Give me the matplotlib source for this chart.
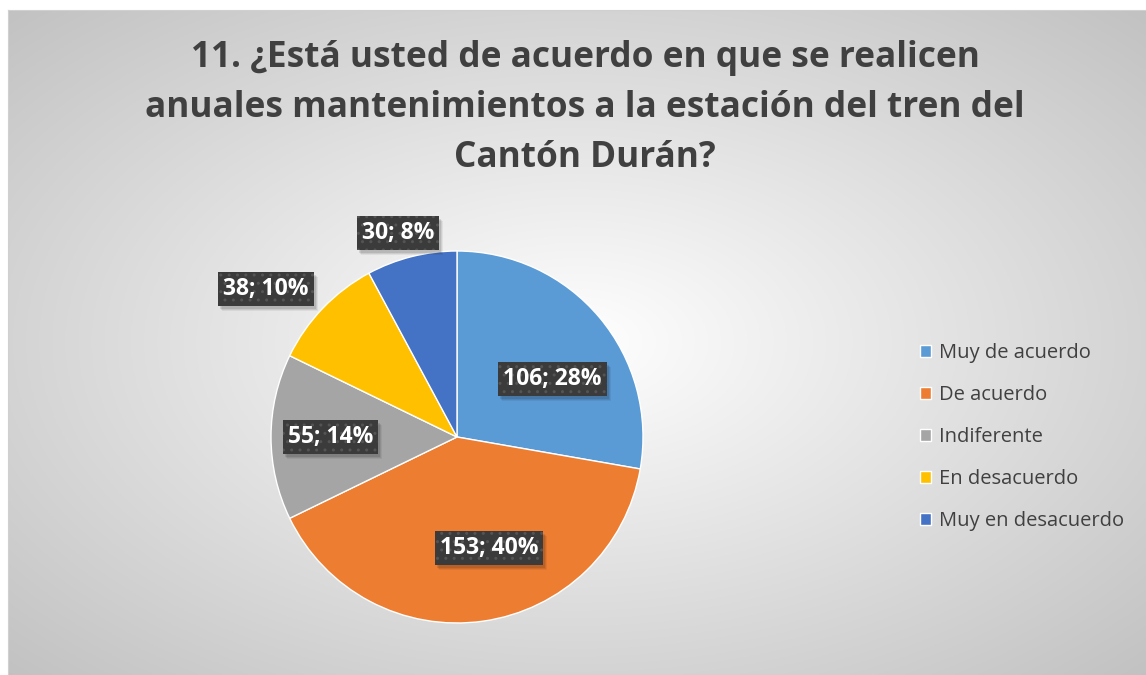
import matplotlib.pyplot as plt
from matplotlib.patches import Rectangle
import numpy as np

categories = ['Muy de acuerdo', 'De acuerdo', 'Indiferente', 'En desacuerdo', 'Muy en desacuerdo']
counts = [106, 153, 55, 38, 30]
percents = [28, 40, 14, 10, 8]
colors = ['#5B9BD5', '#ED7D31', '#A5A5A5', '#FFC000', '#4472C4']
# how far out from the centre each data label sits (fraction of radius)
label_dist = [0.6, 0.62, 0.68, 1.3, 1.14]
label_shift = [-9, 8, 0, 6, 2]  # degrees, to mimic excel's "best fit"

title = '11. ¿Está usted de acuerdo en que se realicen\nanuales mantenimientos a la estación del tren del\nCantón Durán?'

W, H = 1146, 675
fig = plt.figure(figsize=(W / 100, H / 100), dpi=100)
fig.patch.set_facecolor('white')

# chart area with radial gradient background
x0, y0, x1, y1 = 8, 10, 1146, 675
bg = fig.add_axes([x0 / W, 1 - y1 / H, (x1 - x0) / W, (y1 - y0) / H])
gx, gy = np.meshgrid(np.linspace(-1, 1, 400), np.linspace(-1, 1, 300))
r = np.sqrt(gx ** 2 + gy ** 2) / np.sqrt(2)
shade = 1.0 - 0.24 * r
bg.imshow(np.dstack([shade, shade, shade]), aspect='auto', extent=[0, 1, 0, 1], zorder=0)
bg.set_xlim(0, 1)
bg.set_ylim(0, 1)
bg.set_xticks([])
bg.set_yticks([])
for s in bg.spines.values():
    s.set_color('#d0d0d0')

fig.text(585 / W, 1 - 108 / H, title, ha='center', va='center', fontsize=25.4,
         fontweight='bold', color='#404040', family='Open Sans', linespacing=1.53)

# pie
cx, cy, rad = 457, 437, 186
ax = fig.add_axes([(cx - rad) / W, 1 - (cy + rad) / H, 2 * rad / W, 2 * rad / H])
wedges, _ = ax.pie(counts, colors=colors, startangle=90, counterclock=False,
                   wedgeprops=dict(edgecolor='white', linewidth=1))
ax.set_xlim(-1, 1)
ax.set_ylim(-1, 1)
ax.set_aspect('equal')
ax.axis('off')

labels = []
for w, c, p, d, sh in zip(wedges, counts, percents, label_dist, label_shift):
    ang = np.deg2rad((w.theta1 + w.theta2) / 2 + sh)
    x, y = d * np.cos(ang), d * np.sin(ang)
    t = ax.text(x, y, f'{c}; {p}%', ha='center', va='center', fontsize=16.5,
                fontweight='bold', color='white', family='Open Sans', zorder=5,
                clip_on=False,
                bbox=dict(boxstyle='square,pad=0.22', facecolor='#3b3b3b', edgecolor='#545454',
                          linewidth=0, hatch='..'))
    labels.append(t)

leg = fig.legend(wedges, categories, loc='center left', bbox_to_anchor=(902 / W, 1 - 437 / H),
                 frameon=False, prop=dict(family='Open Sans', size=14.5), labelcolor='#404040',
                 handlelength=0.55, handleheight=0.55, handletextpad=0.4, labelspacing=1.1)

# soft drop shadows under the label boxes
fig.canvas.draw()
for t in labels:
    bb = t.get_bbox_patch().get_window_extent()
    for k, a in [(5, 0.06), (4, 0.08), (3, 0.1)]:
        ax.add_patch(Rectangle((bb.x0 + k - 1, bb.y0 - k), bb.width, bb.height, transform=None,
                               facecolor='black', alpha=a, edgecolor='none', zorder=4,
                               clip_on=False))

fig.savefig('out.png', dpi=100)
